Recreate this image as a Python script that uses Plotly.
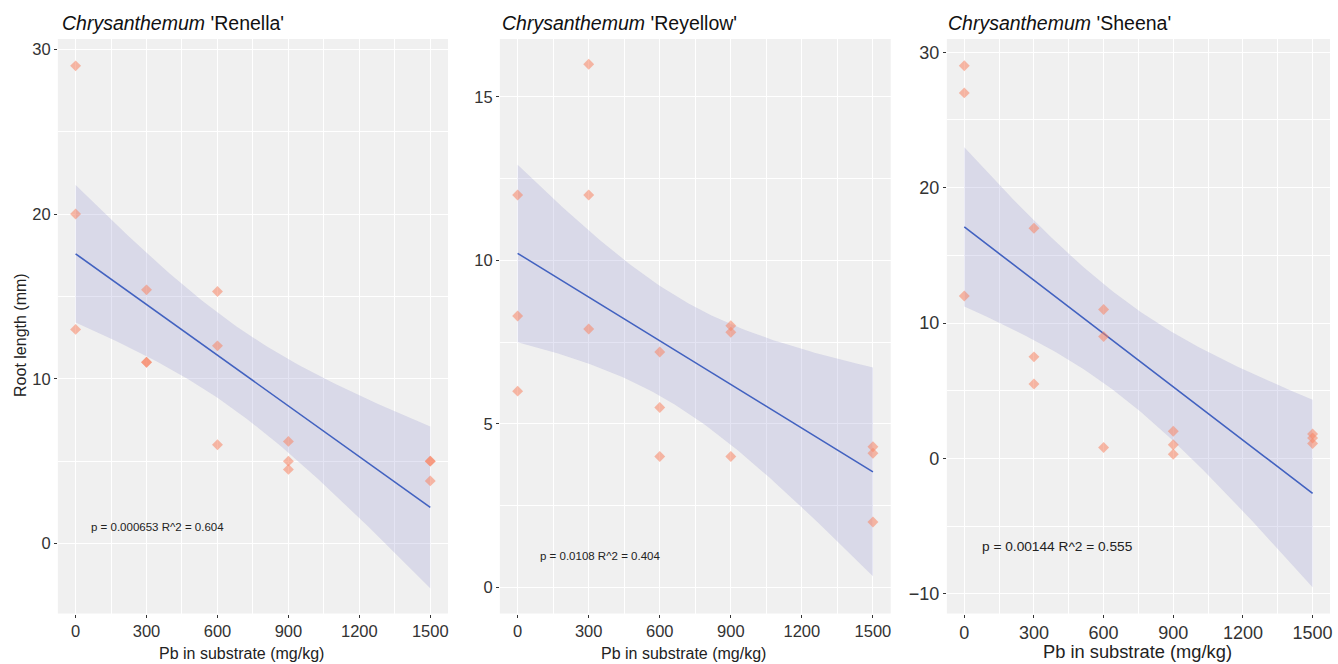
import numpy as np
import plotly.graph_objects as go

# ---- data ----
pb = [0, 0, 0, 300, 300, 300, 600, 600, 600, 900, 900, 900, 1500, 1500, 1500]
renella = [29, 20, 13, 15.4, 11, 11, 15.3, 12, 6, 6.2, 5, 4.5, 5, 5, 3.8]
reyellow = [12, 8.3, 6, 16, 12, 7.9, 7.2, 5.5, 4, 8.0, 7.8, 4, 4.3, 4.1, 2]
sheena = [29, 27, 12, 17, 7.5, 5.5, 11, 9, 0.8, 2, 1, 0.3, 1.8, 1.5, 1.1]
cultivars = ["Renella", "Reyellow", "Sheena"]
stat_labels = ["p = 0.000653 R^2 = 0.604", "p = 0.0108 R^2 = 0.404", "p = 0.00144 R^2 = 0.555"]
x_ticks = [0, 300, 600, 900, 1200, 1500]

T975_DF13 = 2.160369  # Student t 0.975 quantile, df = 13

series = [renella, reyellow, sheena]
xdomains = [[58/1338, 449/1338], [501/1338, 892.7/1338], [949/1338, 1333/1338]]
ydomain = [1 - 613.5/664, 1 - 39/664]
yranges = [[-4.25, 30.63], [-0.8, 16.77], [-11.46, 30.98]]
ydticks = [10, 5, 10]
tickfont_sizes = [16.5, 16.5, 18]
stat_pos = [(55, 1.03), (85, 0.96), (66, -6.49)]
stat_sizes = [11.5, 11.5, 13.7]
title_x = [60, 501, 948]
xtitle_x = [241.7, 685, 1140]
xtitle_sizes = [16, 16, 18.3]

BG = "#F0F0F0"
PT = "rgba(248,132,98,0.55)"
LINE = "#4262C0"
RIB = "rgba(148,148,208,0.25)"
TXT = "#333333"
FONT = "Arial, Liberation Sans, sans-serif"

fig = go.Figure()
annotations = []

for i, ys in enumerate(series):
    x = np.array(pb, dtype=float)
    y = np.array(ys, dtype=float)
    n = len(x)
    xb, yb = x.mean(), y.mean()
    sxx = ((x - xb) ** 2).sum()
    slope = ((x - xb) * (y - yb)).sum() / sxx
    icpt = yb - slope * xb
    resid = y - (icpt + slope * x)
    s = np.sqrt((resid ** 2).sum() / (n - 2))
    xg = np.linspace(x.min(), x.max(), 80)
    yg = icpt + slope * xg
    se = s * np.sqrt(1 / n + (xg - xb) ** 2 / sxx)
    lo = yg - T975_DF13 * se
    hi = yg + T975_DF13 * se

    xa = "x" if i == 0 else f"x{i+1}"
    ya = "y" if i == 0 else f"y{i+1}"

    fig.add_trace(go.Scatter(x=np.concatenate([xg, xg[::-1]]), y=np.concatenate([hi, lo[::-1]]),
                             fill="toself", fillcolor=RIB, line=dict(width=0), mode="lines",
                             hoverinfo="skip", showlegend=False, xaxis=xa, yaxis=ya))
    fig.add_trace(go.Scatter(x=xg, y=yg, mode="lines", line=dict(color=LINE, width=1.6),
                             showlegend=False, xaxis=xa, yaxis=ya))
    fig.add_trace(go.Scatter(x=pb, y=ys, mode="markers",
                             marker=dict(symbol="diamond", size=8.4, color=PT, line=dict(width=0)),
                             showlegend=False, xaxis=xa, yaxis=ya))

    axkey = "" if i == 0 else str(i + 1)
    fig.update_layout(**{
        f"xaxis{axkey}": dict(domain=xdomains[i], range=[-75, 1575], anchor=ya,
                              tickmode="array", tickvals=x_ticks, ticktext=[str(v) for v in x_ticks],
                              showgrid=True, gridcolor="white", gridwidth=1.3, zeroline=False,
                              minor=dict(showgrid=True, gridcolor="white", gridwidth=0.7,
                                         tickmode="array", tickvals=[150, 450, 750, 1050, 1350], ticks=""),
                              ticks="outside", ticklen=3, tickcolor=TXT, tickwidth=1,
                              tickfont=dict(size=tickfont_sizes[i], color=TXT, family=FONT),
                              showline=False, fixedrange=True),
        f"yaxis{axkey}": dict(domain=ydomain, range=yranges[i], anchor=xa,
                              tick0=0, dtick=ydticks[i],
                              showgrid=True, gridcolor="white", gridwidth=1.3, zeroline=False,
                              minor=dict(showgrid=True, gridcolor="white", gridwidth=0.7,
                                         tick0=ydticks[i] / 2, dtick=ydticks[i], ticks=""),
                              ticks="outside", ticklen=3, tickcolor=TXT, tickwidth=1,
                              tickfont=dict(size=tickfont_sizes[i], color=TXT, family=FONT),
                              showline=False, fixedrange=True),
    })

    annotations.append(dict(x=stat_pos[i][0], y=stat_pos[i][1], xref=xa, yref=ya,
                            text=stat_labels[i], showarrow=False, xanchor="left", yanchor="middle",
                            font=dict(size=stat_sizes[i], color="#222222", family=FONT)))
    annotations.append(dict(x=title_x[i] / 1338, y=1 - 23 / 664, xref="paper", yref="paper",
                            text=f"<i>Chrysanthemum</i> '{cultivars[i]}'", showarrow=False,
                            xanchor="left", yanchor="middle",
                            font=dict(size=19.5, color="#111111", family=FONT)))
    annotations.append(dict(x=xtitle_x[i] / 1338, y=0, xref="paper", yref="paper",
                            text="Pb in substrate (mg/kg)", showarrow=False,
                            xanchor="center", yanchor="bottom",
                            font=dict(size=xtitle_sizes[i], color="#222222", family=FONT)))

annotations.append(dict(x=21 / 1338, y=1 - 335 / 664, xref="paper", yref="paper",
                        text="Root length (mm)", showarrow=False, textangle=-90,
                        xanchor="center", yanchor="middle",
                        font=dict(size=16, color="#222222", family=FONT)))

fig.update_layout(width=1338, height=664, margin=dict(l=0, r=0, t=0, b=0),
                  paper_bgcolor="white", plot_bgcolor=BG, annotations=annotations,
                  font=dict(family=FONT), showlegend=False)

fig.write_html("out.html", config={"displayModeBar": False},
               post_script="document.body.style.margin='0';document.body.style.overflow='hidden';")
